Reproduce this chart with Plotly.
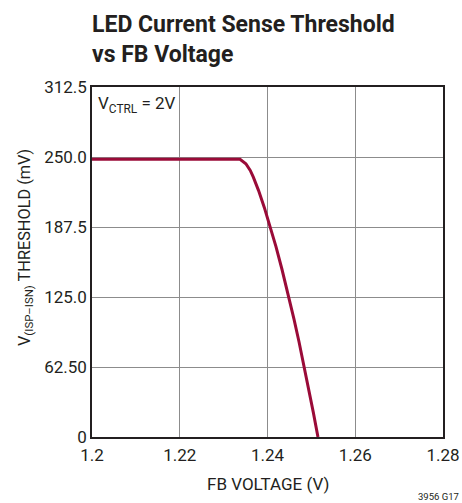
import plotly.graph_objects as go

fb_voltage = [1.2000, 1.2100, 1.2200, 1.2300, 1.23374, 1.23507, 1.23607, 1.23677,
              1.23797, 1.23927, 1.24053, 1.24193, 1.24328, 1.24475, 1.24605,
              1.24718, 1.24821, 1.24929, 1.25044, 1.2515]
threshold_mv = [248, 248, 248, 248, 248, 244, 238, 232,
                220, 205, 189.3, 170, 150, 126.8, 105,
                85, 65.8, 45, 22, 0]

x_ticks = [1.2, 1.22, 1.24, 1.26, 1.28]
x_labels = ["1.2", "1.22", "1.24", "1.26", "1.28"]
y_ticks = [0, 62.5, 125, 187.5, 250, 312.5]
y_labels = ["0", "62.50", "125.0", "187.5", "250.0", "312.5"]

FONT = "Roboto, Liberation Sans, sans-serif"
INK = "#231f20"

W, H = 462, 503
PW, PH = 351, 350  # plot area size
L, T = 92, 87
fig = go.Figure()
fig.add_trace(go.Scatter(x=fb_voltage, y=threshold_mv, mode="lines",
                         line=dict(color="#9a0b38", width=3), showlegend=False,
                         hoverinfo="skip"))

fig.update_layout(
    width=W, height=H, autosize=False,
    margin=dict(l=L, r=W - L - PW, t=T, b=H - T - PH, pad=0),
    paper_bgcolor="white", plot_bgcolor="white",
    font=dict(family=FONT, size=17, color=INK),
    xaxis=dict(range=[1.2, 1.28], tickvals=x_ticks, ticktext=x_labels,
               showgrid=True, gridcolor="#8c8c8c", gridwidth=1,
               showline=True, linecolor=INK, linewidth=1.5, mirror=True,
               ticks="", zeroline=False, tickfont=dict(size=17),
               ticklabelstandoff=2, ticklabeloverflow="allow",
               automargin=False, fixedrange=True),
    yaxis=dict(range=[0, 312.5], tickvals=y_ticks, ticktext=y_labels,
               showgrid=True, gridcolor="#8c8c8c", gridwidth=1,
               showline=True, linecolor=INK, linewidth=1.5, mirror=True,
               ticks="", zeroline=False, tickfont=dict(size=17),
               ticklabeloverflow="allow", automargin=False, fixedrange=True),
    annotations=[
        dict(text="<b>LED Current Sense Threshold<br>vs FB Voltage</b>",
             xref="paper", yref="paper", x=-2/PW, y=1 + 78/PH,
             xanchor="left", yanchor="top", align="left", showarrow=False,
             font=dict(family=FONT, size=23, color=INK)),
        dict(text="V<sub>(ISP–ISN)</sub> THRESHOLD (mV)", textangle=-90,
             xref="paper", yref="paper", x=-67/PW, y=0.5 + 14/PH,
             xanchor="center", yanchor="middle", showarrow=False,
             font=dict(family=FONT, size=16.3)),
        dict(text="FB VOLTAGE (V)", xref="paper", yref="paper",
             x=0.5, y=-47/PH, xanchor="center", yanchor="middle",
             showarrow=False, font=dict(family=FONT, size=17)),
        dict(text="V<sub>CTRL</sub> = 2V", xref="paper", yref="paper",
             x=0.012, y=0.99, xanchor="left", yanchor="top", showarrow=False,
             font=dict(family=FONT, size=17)),
        dict(text="3956 G17", xref="paper", yref="paper",
             x=(461 - L) / PW, y=-59/PH, xanchor="right", yanchor="middle",
             showarrow=False, font=dict(family=FONT, size=9.5)),
    ],
)

# remove the default 8px page margin so the figure fills the window exactly
fig.write_html("out.html", config={"displayModeBar": False},
               post_script="document.body.style.margin='0';")
